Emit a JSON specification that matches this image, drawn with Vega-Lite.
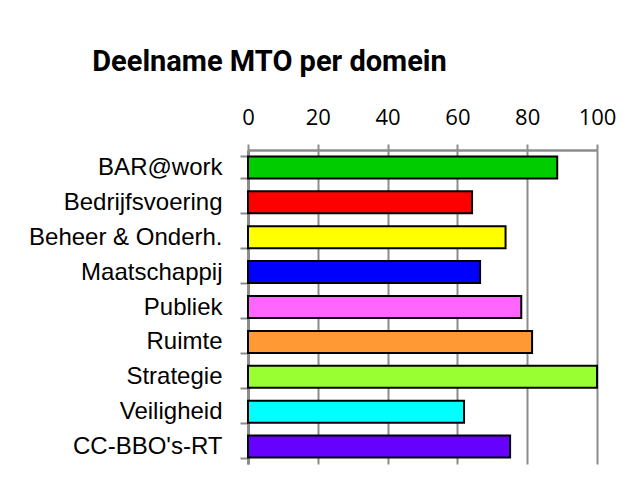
{
  "$schema": "https://vega.github.io/schema/vega-lite/v6.json",
  "width": 349,
  "height": 314,
  "autosize": {"type": "none"},
  "padding": {"left": 248, "top": 150, "right": 42, "bottom": 22},
  "background": "white",
  "title": {
    "text": "Deelname MTO per domein",
    "font": "Roboto",
    "fontWeight": "bold",
    "fontSize": 29,
    "color": "black",
    "anchor": "middle",
    "frame": "group",
    "dx": -153,
    "baseline": "alphabetic",
    "offset": 6
  },
  "data": {
    "values": [
      {"domein": "BAR@work", "pct": 88.6, "kleur": "#00CC00"},
      {"domein": "Bedrijfsvoering", "pct": 64.2, "kleur": "#FF0000"},
      {"domein": "Beheer & Onderh.", "pct": 73.8, "kleur": "#FFFF00"},
      {"domein": "Maatschappij", "pct": 66.5, "kleur": "#0000FF"},
      {"domein": "Publiek", "pct": 78.3, "kleur": "#FF66FF"},
      {"domein": "Ruimte", "pct": 81.4, "kleur": "#FF9933"},
      {"domein": "Strategie", "pct": 100, "kleur": "#99FF33"},
      {"domein": "Veiligheid", "pct": 61.9, "kleur": "#00FFFF"},
      {"domein": "CC-BBO's-RT", "pct": 75.1, "kleur": "#6600FF"}
    ]
  },
  "mark": {"type": "bar", "stroke": "black", "strokeWidth": 2},
  "encoding": {
    "y": {
      "field": "domein",
      "type": "nominal",
      "sort": null,
      "scale": {"paddingInner": 0.37, "paddingOuter": 0.185},
      "axis": {
        "title": null,
        "orient": "left",
        "tickBand": "extent",
        "domainColor": "#8c8c8c",
        "domainWidth": 3,
        "tickColor": "#8c8c8c",
        "tickWidth": 2,
        "tickSize": 8,
        "labelPadding": 18,
        "labelFont": "Liberation Sans",
        "labelFontSize": 24,
        "labelColor": "black",
        "labelLimit": 300,
        "grid": false
      }
    },
    "x": {
      "field": "pct",
      "type": "quantitative",
      "scale": {"domain": [0, 100], "nice": false},
      "axis": {
        "title": null,
        "orient": "top",
        "values": [0, 20, 40, 60, 80, 100],
        "domainColor": "#8c8c8c",
        "domainWidth": 2.5,
        "tickColor": "#8c8c8c",
        "tickWidth": 2,
        "tickSize": 6,
        "labelPadding": 15,
        "labelFlush": false,
        "labelOverlap": false,
        "labelFont": "Open Sans",
        "labelFontSize": 22,
        "labelColor": "black",
        "grid": true,
        "gridColor": "#8c8c8c",
        "gridWidth": 2,
        "gridOpacity": 1
      }
    },
    "color": {"field": "kleur", "type": "nominal", "scale": null, "legend": null}
  },
  "config": {"view": {"stroke": null}}
}
